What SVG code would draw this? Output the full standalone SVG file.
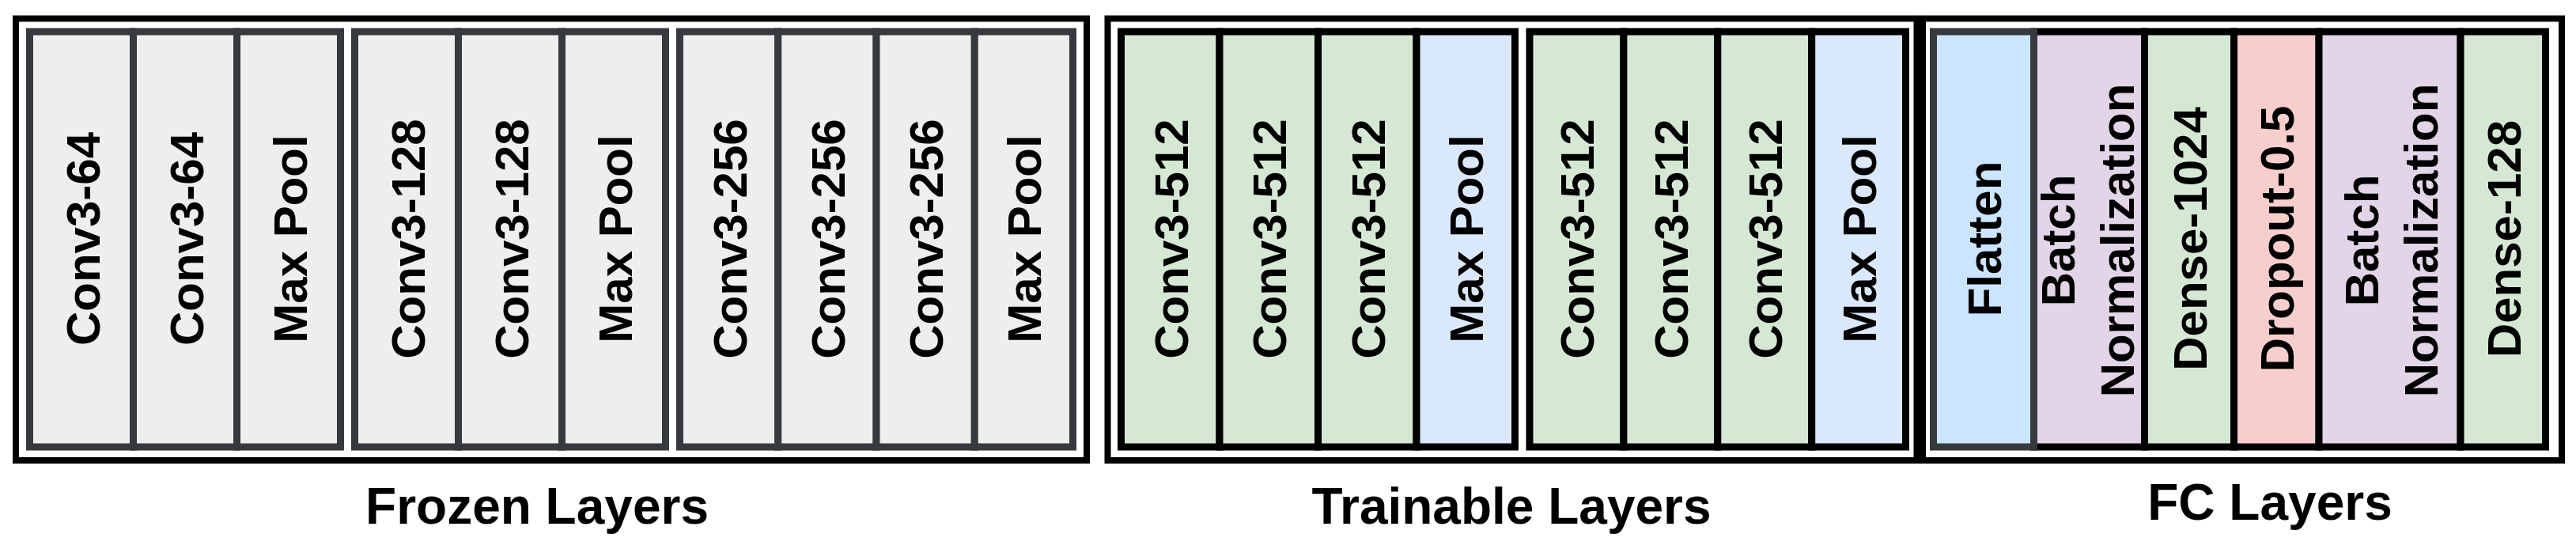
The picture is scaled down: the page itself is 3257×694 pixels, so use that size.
<svg xmlns="http://www.w3.org/2000/svg" width="3257" height="694" viewBox="0 0 3257 694">
<style>
.frame{fill:none;stroke:#000;stroke-width:8}
.fz{fill:#eeeeee;stroke:#36393d;stroke-width:9}
.cv{fill:#d5e8d4;stroke:#000;stroke-width:9}
.mp{fill:#dae8fc;stroke:#000;stroke-width:9}
.fl{fill:#cce5ff;stroke:#36393d;stroke-width:9}
.bn{fill:#e1d5e7;stroke:#000;stroke-width:9}
.dr{fill:#f8cecc;stroke:#000;stroke-width:9}
text{font-family:"Liberation Sans",Arial,sans-serif;font-weight:bold;fill:#000;text-anchor:middle}
.t{font-size:60px}
.lbl{font-size:64px}
</style>
<rect width="3257" height="694" fill="#fff"/>
<g id="frames">
<rect class="frame" x="20" y="23.5" width="1354" height="558.5"/>
<rect class="frame" x="1400.5" y="23.5" width="1023" height="558.5"/>
<rect class="frame" x="2431" y="23.5" width="808" height="558.5"/>
</g>
<g id="frozen">
<g id="f1"><rect class="fz" x="37.5" y="40" width="131" height="525"/><text class="t" transform="translate(104,302) rotate(-90)" y="22">Conv3-64</text></g>
<g id="f2"><rect class="fz" x="168.5" y="40" width="131" height="525"/><text class="t" transform="translate(235,302) rotate(-90)" y="22">Conv3-64</text></g>
<g id="f3"><rect class="fz" x="299.5" y="40" width="131" height="525"/><text class="t" transform="translate(366,302) rotate(-90)" y="22">Max Pool</text></g>
<g id="f4"><rect class="fz" x="448.5" y="40" width="131" height="525"/><text class="t" transform="translate(515,302) rotate(-90)" y="22">Conv3-128</text></g>
<g id="f5"><rect class="fz" x="579.5" y="40" width="131" height="525"/><text class="t" transform="translate(646,302) rotate(-90)" y="22">Conv3-128</text></g>
<g id="f6"><rect class="fz" x="710.5" y="40" width="131" height="525"/><text class="t" transform="translate(777,302) rotate(-90)" y="22">Max Pool</text></g>
<g id="f7"><rect class="fz" x="859.5" y="40" width="124.25" height="525"/><text class="t" transform="translate(921.6,302) rotate(-90)" y="22">Conv3-256</text></g>
<g id="f8"><rect class="fz" x="983.75" y="40" width="124.25" height="525"/><text class="t" transform="translate(1045.9,302) rotate(-90)" y="22">Conv3-256</text></g>
<g id="f9"><rect class="fz" x="1108" y="40" width="124.25" height="525"/><text class="t" transform="translate(1170.1,302) rotate(-90)" y="22">Conv3-256</text></g>
<g id="f10"><rect class="fz" x="1232.25" y="40" width="124.25" height="525"/><text class="t" transform="translate(1294.4,302) rotate(-90)" y="22">Max Pool</text></g>
</g>
<g id="trainable">
<g id="t1"><rect class="cv" x="1417.5" y="40" width="124.5" height="525"/><text class="t" transform="translate(1479.75,302) rotate(-90)" y="22">Conv3-512</text></g>
<g id="t2"><rect class="cv" x="1542" y="40" width="124.5" height="525"/><text class="t" transform="translate(1604.25,302) rotate(-90)" y="22">Conv3-512</text></g>
<g id="t3"><rect class="cv" x="1666.5" y="40" width="124.5" height="525"/><text class="t" transform="translate(1728.75,302) rotate(-90)" y="22">Conv3-512</text></g>
<g id="t4"><rect class="mp" x="1791" y="40" width="124.5" height="525"/><text class="t" transform="translate(1853.25,302) rotate(-90)" y="22">Max Pool</text></g>
<g id="t5"><rect class="cv" x="1934" y="40" width="118.9" height="525"/><text class="t" transform="translate(1993.45,302) rotate(-90)" y="22">Conv3-512</text></g>
<g id="t6"><rect class="cv" x="2052.9" y="40" width="118.9" height="525"/><text class="t" transform="translate(2112.35,302) rotate(-90)" y="22">Conv3-512</text></g>
<g id="t7"><rect class="cv" x="2171.8" y="40" width="118.9" height="525"/><text class="t" transform="translate(2231.25,302) rotate(-90)" y="22">Conv3-512</text></g>
<g id="t8"><rect class="mp" x="2290.7" y="40" width="118.8" height="525"/><text class="t" transform="translate(2350.1,302) rotate(-90)" y="22">Max Pool</text></g>
</g>
<g id="fc">
<g id="c2"><rect class="bn" x="2571.5" y="40" width="140" height="525"/><text class="t" transform="translate(2637.5,304) rotate(-90)"><tspan x="0" y="-15">Batch</tspan><tspan x="0" y="60">Normalization</tspan></text></g>
<g id="c1"><rect class="fl" x="2444.5" y="40" width="127" height="525"/><text class="t" transform="translate(2508,302) rotate(-90)" y="22">Flatten</text></g>
<g id="c3"><rect class="cv" x="2711.5" y="40" width="113" height="525"/><text class="t" transform="translate(2768,302) rotate(-90)" y="22">Dense-1024</text></g>
<g id="c4"><rect class="dr" x="2824.5" y="40" width="107.5" height="525"/><text class="t" transform="translate(2878.25,302) rotate(-90)" y="22">Dropout-0.5</text></g>
<g id="c5"><rect class="bn" x="2932" y="40" width="179" height="525"/><text class="t" transform="translate(3021.5,304) rotate(-90)"><tspan x="0" y="-15">Batch</tspan><tspan x="0" y="60">Normalization</tspan></text></g>
<g id="c6"><rect class="cv" x="3111" y="40" width="107.5" height="525"/><text class="t" transform="translate(3164.75,302) rotate(-90)" y="22">Dense-128</text></g>
</g>
<g id="labels">
<text class="lbl" x="679" y="662">Frozen Layers</text>
<text class="lbl" x="1911" y="662">Trainable Layers</text>
<text class="lbl" x="2870" y="657">FC Layers</text>
</g>
</svg>
